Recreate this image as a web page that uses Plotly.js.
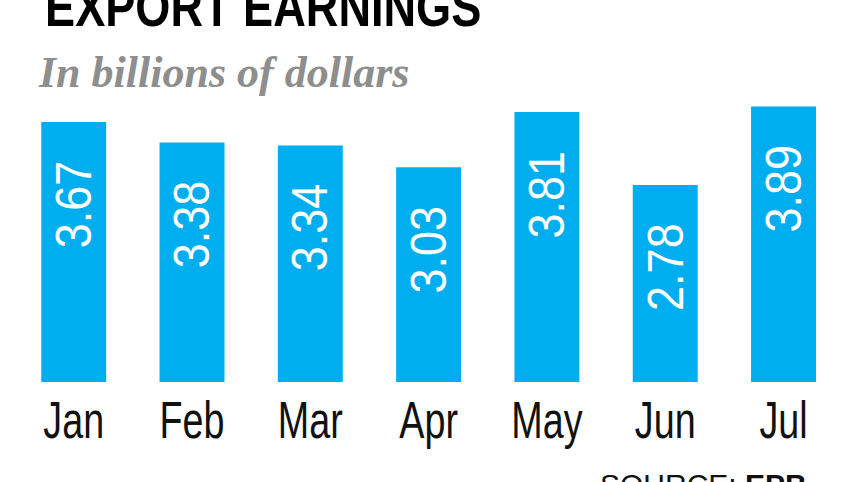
<!DOCTYPE html>
<html>
<head>
<meta charset="utf-8">
<script src="https://cdn.plot.ly/plotly-3.0.1.min.js"></script>
<style>
  html, body { margin: 0; padding: 0; background: #ffffff; }
  #chart { width: 857px; height: 482px; }
</style>
</head>
<body>
<div id="chart"></div>
<script>
// Monthly export earnings, billions of dollars
const months = ['Jan', 'Feb', 'Mar', 'Apr', 'May', 'Jun', 'Jul'];
const earnings = [3.67, 3.38, 3.34, 3.03, 3.81, 2.78, 3.89];
const valueLabels = ['3.67', '3.38', '3.34', '3.03', '3.81', '2.78', '3.89'];

const barColor = '#00aeef';
const sans = 'Liberation Sans, Arial, sans-serif';

const trace = {
  type: 'bar',
  x: months,
  y: earnings,
  marker: { color: barColor, line: { width: 0 } },
  hoverinfo: 'skip'
};

// value labels written upward inside the top of each bar
const valueNotes = months.map((m, i) => ({
  x: m, y: earnings[i], xref: 'x', yref: 'y',
  text: valueLabels[i],
  textangle: -90,
  showarrow: false,
  xanchor: 'center', yanchor: 'top',
  yshift: -32,
  font: { family: sans, size: 50, color: '#ffffff' }
}));

const headerNotes = [
  {
    text: '<b>EXPORT EARNINGS</b>',
    xref: 'paper', yref: 'paper', x: 43 / 857, y: 1, xanchor: 'left', yanchor: 'bottom',
    yshift: -40, showarrow: false, name: 'headline',
    font: { family: sans, size: 56, color: '#000000' }
  },
  {
    text: '<b><i>In billions of dollars</i></b>',
    xref: 'paper', yref: 'paper', x: 36 / 857, y: 1, xanchor: 'left', yanchor: 'top',
    yshift: -46, showarrow: false,
    font: { family: 'Liberation Serif, Times New Roman, serif', size: 44, color: '#8e8e8e' }
  },
  {
    text: 'SOURCE: <b>EPB</b>',
    xref: 'paper', yref: 'paper', x: 598 / 857, y: 0, xanchor: 'left', yanchor: 'top',
    yshift: -84, showarrow: false,
    font: { family: sans, size: 30, color: '#111111' }
  }
];

const layout = {
  width: 857,
  height: 482,
  margin: { l: 0, r: 0, t: 0, b: 100, pad: 0 },
  paper_bgcolor: '#ffffff',
  plot_bgcolor: '#ffffff',
  showlegend: false,
  bargap: 0.451,
  xaxis: {
    type: 'category',
    range: [-0.623, 6.621],
    showgrid: false, zeroline: false, showline: false, ticks: '',
    tickfont: { family: sans, size: 51, color: '#111111' },
    ticklabelstandoff: 4,
    fixedrange: true
  },
  yaxis: {
    range: [0, 5.392],
    showgrid: false, zeroline: false, showline: false, ticks: '',
    showticklabels: false,
    fixedrange: true
  },
  annotations: valueNotes.concat(headerNotes)
};

// squeeze a text element horizontally (in its own frame) about its centre
function condense(el, s) {
  const b = el.getBBox();
  const cx = b.x + b.width / 2;
  const prev = el.getAttribute('transform') || '';
  el.setAttribute('transform',
    prev + ' translate(' + cx + ',0) scale(' + s + ',1) translate(' + (-cx) + ',0)');
}

// squeeze keeping the left edge in place
function condenseLeft(el, s) {
  const b = el.getBBox();
  const x0 = b.x;
  const prev = el.getAttribute('transform') || '';
  el.setAttribute('transform',
    prev + ' translate(' + x0 + ',0) scale(' + s + ',1) translate(' + (-x0) + ',0)');
}

Plotly.newPlot('chart', [trace], layout, { displayModeBar: false, staticPlot: true })
  .then(gd => {
    gd.querySelectorAll('.xtick text').forEach(t => condense(t, 0.74));
    const notes = gd.querySelectorAll('.annotation');
    notes.forEach((g, i) => {
      const t = g.querySelector('text');
      if (!t) return;
      if (i < months.length) condense(t, 0.9);
      else if (i === months.length) condenseLeft(t, 0.806);
    });
  });
</script>
</body>
</html>
